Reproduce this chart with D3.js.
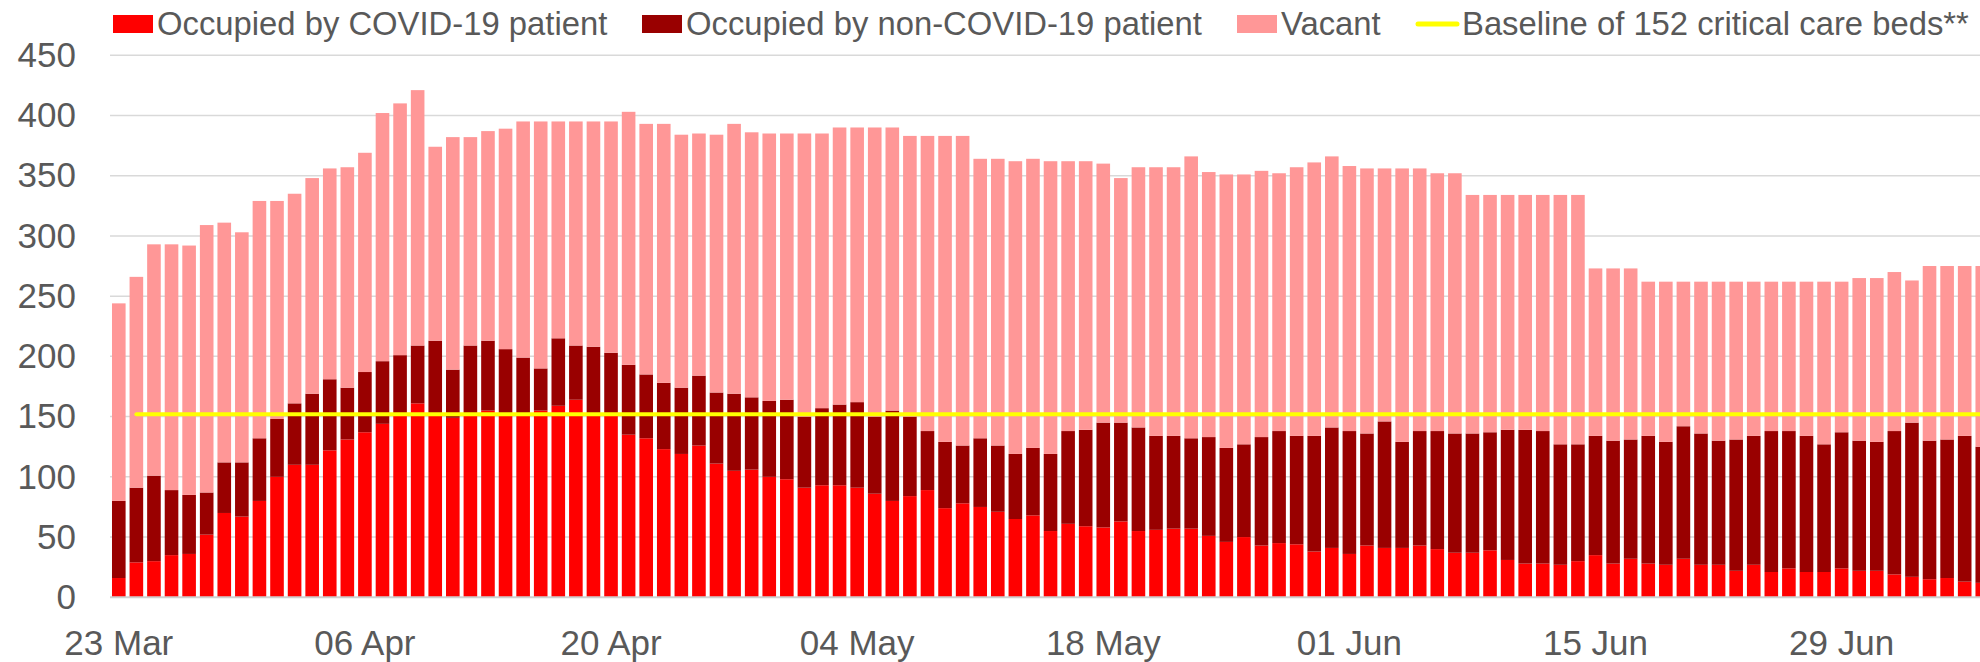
<!DOCTYPE html>
<html>
<head>
<meta charset="utf-8">
<script src="https://cdn.jsdelivr.net/npm/d3@7"></script>
<style>
  html, body { margin: 0; padding: 0; background: #fff; }
  svg { display: block; font-family: "Liberation Sans", Arial, sans-serif; }
</style>
</head>
<body>
<svg id="chart" width="1980" height="662"></svg>
<script>
// daily critical care beds, 23 Mar onwards
const covid = [16, 29, 30, 35, 36, 52, 70, 67, 80, 100, 110, 110, 122, 131, 137, 144, 151, 161, 152, 149,
  152, 155, 152, 152, 155, 159, 164, 151, 151, 135, 132, 123, 119, 126, 111, 105, 106, 100, 98, 91,
  93, 93, 91, 86, 80, 84, 89, 74, 78, 75, 71, 65, 68, 55, 61, 59, 58, 63, 55, 56,
  57, 57, 51, 46, 50, 43, 45, 44, 38, 41, 36, 43, 41, 41, 43, 40, 37, 37, 39, 31,
  28, 28, 27, 30, 35, 28, 32, 28, 27, 32, 27, 27, 22, 27, 21, 24, 21, 21, 24, 22,
  22, 19, 17, 15, 16, 13, 12];
const nonCovid = [64, 62, 71, 54, 49, 35, 42, 45, 52, 48, 51, 59, 59, 43, 50, 52, 50, 48, 61, 40,
  57, 58, 54, 47, 35, 56, 45, 57, 52, 58, 53, 55, 55, 58, 59, 64, 60, 63, 66, 59,
  64, 67, 71, 64, 75, 66, 49, 55, 48, 57, 55, 54, 56, 64, 77, 80, 87, 82, 86, 78,
  77, 75, 82, 78, 77, 90, 93, 90, 96, 100, 102, 93, 105, 88, 95, 98, 99, 99, 98, 108,
  111, 110, 100, 97, 99, 102, 99, 106, 102, 110, 109, 103, 109, 107, 117, 114, 113, 106, 113, 108,
  107, 119, 128, 115, 115, 121, 113];
const vacant = [164, 175, 192, 204, 207, 222, 199, 191, 197, 181, 174, 179, 175, 183, 182, 206, 209, 212, 161, 193,
  173, 174, 183, 196, 205, 180, 186, 187, 192, 210, 208, 215, 210, 201, 214, 224, 220, 222, 221, 235,
  228, 230, 228, 240, 235, 233, 245, 254, 257, 232, 238, 243, 240, 243, 224, 223, 215, 203, 216, 223,
  223, 234, 220, 227, 224, 221, 214, 223, 227, 225, 220, 220, 210, 227, 218, 214, 216, 198, 197, 195,
  195, 196, 207, 207, 139, 143, 142, 128, 133, 120, 126, 132, 131, 128, 124, 124, 128, 135, 125, 135,
  136, 132, 118, 145, 144, 141, 150];
const baseline = 152;
const yTicks = [0, 50, 100, 150, 200, 250, 300, 350, 400, 450];
const xTickLabels = ['23 Mar', '06 Apr', '20 Apr', '04 May', '18 May', '01 Jun', '15 Jun', '29 Jun'];
const legendLabels = ['Occupied by COVID-19 patient', 'Occupied by non-COVID-19 patient', 'Vacant',
  'Baseline of 152 critical care beds**'];

const colors = { covid: '#ff0000', nonCovid: '#990000', vacant: '#ff9797', baseline: '#ffff00' };
const textColor = '#595959';

const dates = d3.timeDay.range(new Date(2020, 2, 23), new Date(2020, 2, 23 + covid.length));
const fmt = d3.timeFormat('%d %b');
const rows = dates.map((d, i) => ({ date: d, covid: covid[i], nonCovid: nonCovid[i], vacant: vacant[i] }));

const svg = d3.select('#chart');
const plotLeft = 110;
const step = 17.58;
const plotTop = 55.2;
const plotBottom = 597.3;

const x = d3.scaleBand()
  .domain(dates)
  .range([plotLeft, plotLeft + step * dates.length])
  .paddingInner(0.226)
  .paddingOuter(0.113);
const y = d3.scaleLinear().domain([0, 450]).range([plotBottom, plotTop]);

// gridlines
svg.append('g')
  .selectAll('line')
  .data(yTicks.slice(1))
  .join('line')
  .attr('x1', plotLeft)
  .attr('x2', 1980)
  .attr('y1', (d) => y(d))
  .attr('y2', (d) => y(d))
  .attr('stroke', '#d9d9d9')
  .attr('stroke-width', 1.5);

// stacked bars
const keys = ['covid', 'nonCovid', 'vacant'];
const stacked = d3.stack().keys(keys)(rows);
svg.append('g')
  .selectAll('g')
  .data(stacked)
  .join('g')
  .attr('fill', (s) => colors[s.key])
  .selectAll('rect')
  .data((s) => s)
  .join('rect')
  .attr('x', (d) => x(d.data.date))
  .attr('width', x.bandwidth())
  .attr('y', (d) => y(d[1]))
  .attr('height', (d) => y(d[0]) - y(d[1]));

// y axis
const yAxis = svg.append('g')
  .attr('transform', `translate(${plotLeft},0)`)
  .call(d3.axisLeft(y).tickValues(yTicks).tickSize(0).tickPadding(34));
yAxis.select('.domain').remove();
yAxis.selectAll('text')
  .attr('fill', textColor)
  .attr('font-size', 35)
  .attr('font-family', '"Liberation Sans", Arial, sans-serif');

// x axis
const xAxis = svg.append('g')
  .attr('transform', `translate(0,${plotBottom})`)
  .call(d3.axisBottom(x)
    .tickValues(dates.filter((d) => xTickLabels.includes(fmt(d))))
    .tickFormat(fmt)
    .tickSize(0)
    .tickPadding(33));
xAxis.select('.domain')
  .attr('stroke', '#d0d0d0')
  .attr('stroke-width', 2)
  .attr('d', `M${plotLeft},0H1980`);
xAxis.selectAll('text')
  .attr('fill', textColor)
  .attr('font-size', 35)
  .attr('font-family', '"Liberation Sans", Arial, sans-serif');

// baseline line, starts on the second day
const line = d3.line()
  .x((d) => x(d) + x.bandwidth() / 2)
  .y(() => y(baseline));
svg.append('path')
  .attr('d', line(dates.slice(1)))
  .attr('fill', 'none')
  .attr('stroke', colors.baseline)
  .attr('stroke-width', 4)
  .attr('stroke-linecap', 'round');

// legend
const legend = svg.append('g').attr('font-size', 32.8).attr('fill', textColor);
const items = [
  { x: 113, label: legendLabels[0], color: colors.covid, type: 'rect' },
  { x: 642, label: legendLabels[1], color: colors.nonCovid, type: 'rect' },
  { x: 1237, label: legendLabels[2], color: colors.vacant, type: 'rect' },
  { x: 1416, label: legendLabels[3], color: colors.baseline, type: 'line' },
];
items.forEach((it) => {
  if (it.type === 'rect') {
    legend.append('rect')
      .attr('x', it.x).attr('y', 15)
      .attr('width', 40).attr('height', 18)
      .attr('fill', it.color);
  } else {
    legend.append('line')
      .attr('x1', it.x + 2).attr('x2', it.x + 41)
      .attr('y1', 24).attr('y2', 24)
      .attr('stroke', it.color)
      .attr('stroke-width', 5)
      .attr('stroke-linecap', 'round');
  }
  legend.append('text')
    .attr('x', it.x + (it.type === 'rect' ? 44 : 46))
    .attr('y', 34.5)
    .text(it.label);
});
</script>
</body>
</html>
